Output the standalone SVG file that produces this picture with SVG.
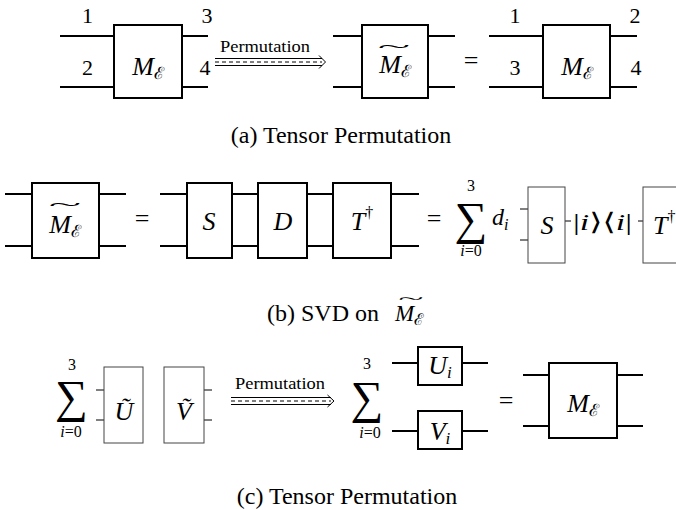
<svg xmlns="http://www.w3.org/2000/svg" width="676" height="510" viewBox="0 0 676 510" font-family="Liberation Serif, DejaVu Serif, serif">
<style>
.thick{fill:#fff;stroke:#000;stroke-width:2}
.thin{fill:#fff;stroke:#444;stroke-width:1}
.wire{stroke:#000;stroke-width:2;fill:none}
.stub{stroke:#000;stroke-width:1;fill:none}
.arr{stroke:#000;stroke-width:1;fill:none}
.dash{stroke:#000;stroke-width:1;fill:none;stroke-dasharray:4 3}
.it{font-style:italic}
.mid{text-anchor:middle}
.lbl{font-size:22px}
.mt{font-size:26px;font-style:italic}
.sub{font-size:17px;font-style:normal}
.cap{font-size:24px}
.perm{font-size:17px}
.sum{font-size:46px}
.lim{font-size:16px}
</style>
<g id="connectors">
  <path class="wire" d="M60,36H114M60,87H114M182,36H208M182,87H208"/>
  <path class="wire" d="M333,36H362M333,87H362M428,36H455M428,87H455"/>
  <path class="wire" d="M489,36H543M489,87H543M610,36H637M610,87H637"/>
  <g id="arrow-a">
    <path class="arr" d="M215,58.5H322M215,65.5H322"/>
    <path class="dash" d="M215,62H322"/>
    <path class="arr" d="M319,55.5L325.5,62L319,68.5"/>
  </g>
  <path class="wire" d="M5,194H32M5,246H32M99,194H126M99,246H126"/>
  <path class="wire" d="M160,194H187M160,246H187M232,194H258M232,246H258M307,194H333M307,246H333M391,194H419M391,246H419"/>
  <path class="stub" d="M520,209H528M520,240H528M565,221H571M638,221H643"/>
  <path class="stub" d="M96,390H104M96,420H104M204,390H212M204,420H212"/>
  <g id="arrow-c">
    <path class="arr" d="M231,397.5H331M231,404.5H331"/>
    <path class="dash" d="M231,401H331"/>
    <path class="arr" d="M327.5,395L334,401L327.5,407"/>
  </g>
  <path class="wire" d="M392,363H418M462,363H488M392,431H418M462,431H488"/>
  <path class="wire" d="M523,375H549M523,426H549M617,375H643M617,426H643"/>
</g>

<g id="a-M">
  <rect class="thick" x="114" y="25" width="68" height="73"/>
  <text class="mt mid" x="148" y="75">M<tspan class="sub" dy="4">ℰ</tspan></text>
</g>
<g id="a-labels">
  <text class="lbl mid" x="87.5" y="23">1</text>
  <text class="lbl mid" x="87.5" y="75">2</text>
  <text class="lbl mid" x="207" y="23">3</text>
  <text class="lbl mid" x="205" y="75">4</text>
</g>
<text class="perm" x="220" y="52" textLength="90" lengthAdjust="spacingAndGlyphs">Permutation</text>
<g id="a-Mtilde">
  <rect class="thick" x="362" y="25" width="66" height="73"/>
  <text class="mt mid" x="395" y="73">M<tspan class="sub" dy="4">ℰ</tspan></text>
  <text class="mid" font-size="20" transform="translate(394,52) scale(3,0.8)">~</text>
</g>
<text class="mid" font-size="26" x="471" y="69">=</text>
<g id="a-M2">
  <rect class="thick" x="543" y="25" width="67" height="73"/>
  <text class="mt mid" x="577" y="75">M<tspan class="sub" dy="4">ℰ</tspan></text>
</g>
<g id="a-labels2">
  <text class="lbl mid" x="515" y="23">1</text>
  <text class="lbl mid" x="515" y="75">3</text>
  <text class="lbl mid" x="635" y="23">2</text>
  <text class="lbl mid" x="636" y="75">4</text>
</g>
<text class="cap mid" x="341" y="143">(a) Tensor Permutation</text>

<g id="b-Mtilde">
  <rect class="thick" x="32" y="183" width="67" height="75"/>
  <text class="mt mid" x="65" y="233">M<tspan class="sub" dy="4">ℰ</tspan></text>
  <text class="mid" font-size="20" transform="translate(65,210) scale(3,0.8)">~</text>
</g>
<text class="mid" font-size="26" x="142" y="227">=</text>
<g id="b-S">
  <rect class="thick" x="187" y="183" width="45" height="75"/>
  <text class="mt mid" x="209" y="230">S</text>
</g>
<g id="b-D">
  <rect class="thick" x="258" y="183" width="49" height="75"/>
  <text class="mt mid" x="283" y="230">D</text>
</g>
<g id="b-T">
  <rect class="thick" x="333" y="183" width="58" height="75"/>
  <text class="mt mid" x="362" y="230">T<tspan font-style="normal" font-size="16" dy="-12">†</tspan></text>
</g>
<text class="mid" font-size="26" x="434" y="227">=</text>
<g id="b-sum">
  <text class="mid lim" x="471" y="191">3</text>
  <text class="mid sum" x="471" y="234">∑</text>
  <text class="mid lim it" x="471" y="256">i<tspan font-style="normal">=0</tspan></text>
  <text class="it" font-size="24" x="492" y="225">d<tspan font-size="16" dy="5">i</tspan></text>
</g>
<g id="b-S2">
  <rect class="thin" x="528" y="187" width="37" height="76"/>
  <text class="mt mid" x="547" y="234">S</text>
</g>
<text font-size="24" x="573" y="230" textLength="59" lengthAdjust="spacingAndGlyphs">|<tspan class="it">i</tspan>⟩⟨<tspan class="it">i</tspan>|</text>
<g id="b-T2">
  <rect class="thin" x="643" y="187" width="60" height="76"/>
  <text class="mt" x="653" y="234">T<tspan font-style="normal" font-size="16" dy="-12">†</tspan></text>
</g>
<text class="cap" x="267" y="321">(b) SVD on</text>
<text class="it" font-size="23" x="395" y="321">M<tspan font-style="normal" font-size="16" dy="4">ℰ</tspan></text>
<text class="mid" font-size="18" transform="translate(411,304) scale(2.6,0.8)">~</text>

<g id="c-sum1">
  <text class="mid lim" x="72" y="370">3</text>
  <text class="mid sum" x="71.5" y="412">∑</text>
  <text class="mid lim it" x="71" y="437">i<tspan font-style="normal">=0</tspan></text>
</g>
<g id="c-U">
  <rect class="thin" x="104" y="367" width="39" height="76"/>
  <text class="mt mid" x="124" y="420">Ũ</text>
</g>
<g id="c-V">
  <rect class="thin" x="164" y="367" width="40" height="76"/>
  <text class="mt mid" x="184" y="420">Ṽ</text>
</g>
<text class="perm" x="235" y="389" textLength="90" lengthAdjust="spacingAndGlyphs">Permutation</text>
<g id="c-sum2">
  <text class="mid lim" x="367" y="369">3</text>
  <text class="mid sum" x="367" y="413">∑</text>
  <text class="mid lim it" x="370" y="438">i<tspan font-style="normal">=0</tspan></text>
</g>
<g id="c-Ui">
  <rect class="thick" x="418" y="347" width="44" height="38"/>
  <text class="mt mid" x="440" y="374">U<tspan font-size="17" dy="4">i</tspan></text>
</g>
<g id="c-Vi">
  <rect class="thick" x="418" y="411" width="44" height="38"/>
  <text class="mt mid" x="440" y="440">V<tspan font-size="17" dy="4">i</tspan></text>
</g>
<text class="mid" font-size="26" x="506" y="409">=</text>
<g id="c-M">
  <rect class="thick" x="549" y="363" width="68" height="75"/>
  <text class="mt mid" x="583" y="412">M<tspan class="sub" dy="4">ℰ</tspan></text>
</g>
<text class="cap mid" x="347" y="504">(c) Tensor Permutation</text>
</svg>
